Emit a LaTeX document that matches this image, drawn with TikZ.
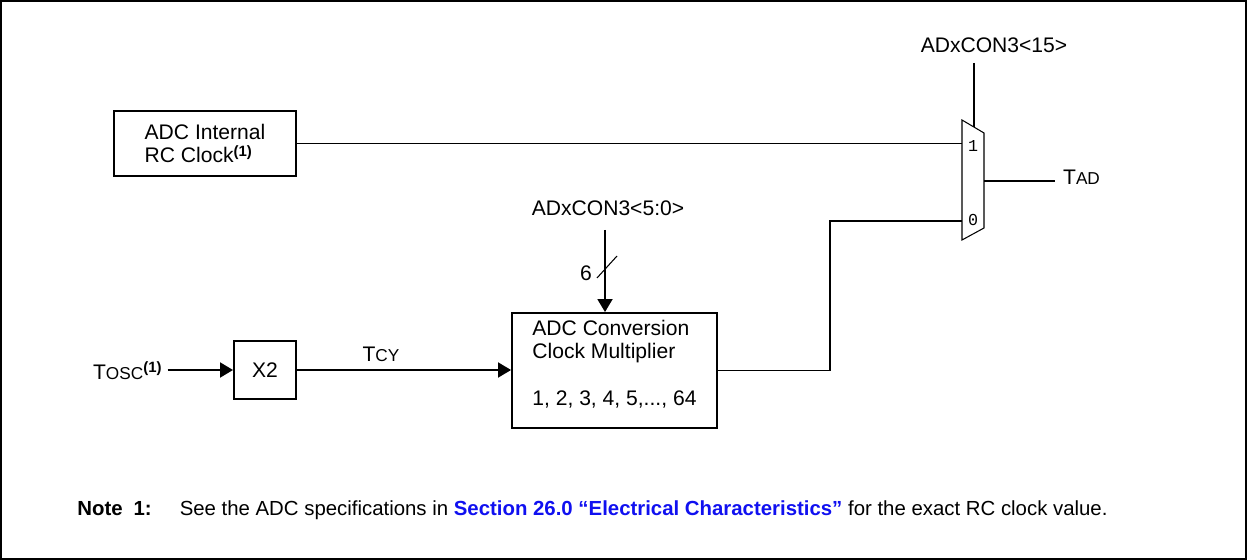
\documentclass[tikz,border=0pt]{standalone}
\usepackage{fontspec}
\setmainfont{Liberation Sans}
\newfontfamily\muxfont{Liberation Mono}
\usetikzlibrary{positioning,arrows.meta,calc}
\definecolor{linkblue}{HTML}{1010F0}
\newcommand{\fnref}{\raisebox{3.5pt}{\fontsize{8.5}{9}\selectfont\bfseries(1)}}
\newcommand{\smc}[1]{{\fontsize{9.8}{10}\selectfont #1}}
\tikzset{
  blockbox/.style={draw, line width=1.1pt, inner sep=0pt},
  wire/.style={line width=1.1pt},
  sig/.style={wire, -{Triangle[length=0.26cm, width=0.3cm]}},
  lbl/.style={inner sep=1pt},
  muxlbl/.style={inner sep=0pt, font=\muxfont\fontsize{9.5}{10}\selectfont},
}

\begin{document}
\begin{tikzpicture}[x=0.02cm, y=-0.02cm, font=\fontsize{12}{13}\selectfont]
\useasboundingbox (0,0) rectangle (1247,560);
\draw[line width=0.7pt] (1,1) rectangle (1246,559);
\node[blockbox, minimum width=3.64cm, minimum height=1.3cm, align=left] (rcclk) at (205,143.5) {ADC Internal\\RC Clock\fnref};
\node[blockbox, minimum width=1.24cm, minimum height=1.16cm] (xtwo) at (265,370) {X2};
\node[blockbox, minimum width=4.1cm, minimum height=2.3cm] (mult) at (614.5,370.5) {};
\node[inner sep=0pt, anchor=north west, align=left] (multtxt) at ([shift={(0.42cm,-0.16cm)}]mult.north west) {ADC Conversion\\Clock Multiplier\\[14pt]1, 2, 3, 4, 5,..., 64};
\draw[line width=0.6pt] (962,120) -- (984,133) -- (984,228) -- (962,240) -- cycle;
\coordinate (muxin1) at (962,144);
\coordinate (muxin0) at (962,221);
\coordinate (muxout) at (984,181);
\coordinate (muxsel) at (974,127);
\node[muxlbl] (onelbl) at (973,146) {1};
\node[muxlbl] (zerolbl) at (973,220) {0};
\node[lbl, anchor=base] (selhi) at (994,53) {ADxCON3<15>};
\coordinate (selhitop) at (974,63);
\draw[wire] (selhitop) -- (muxsel);
\draw[wire] (rcclk.east) -- (rcclk.east -| muxin1);
\node[lbl, anchor=base west] (tad) at (1061,185) {T\smc{AD}};
\draw[wire] (muxout) -- ($(muxout -| tad.west)+(-6,0)$);
\node[lbl, anchor=base] (sello) at (608,216) {ADxCON3<5:0>};
\coordinate (sellotop) at (605,230);
\draw[sig] (sellotop) -- (sellotop |- mult.north);
\draw[line width=0.6pt] (597,278) -- (617,256);
\node[lbl, anchor=base] (buswidth) at (586,281) {6};
\node[lbl, anchor=base west] (tosc) at (91,379) {T\smc{OSC}\fnref};
\draw[sig] ($(tosc.east |- xtwo.west)+(4,0)$) -- (xtwo.west);
\draw[sig] (xtwo.east) -- (xtwo.east -| mult.west);
\node[lbl, anchor=base] (tcy) at (381,361) {T\smc{CY}};
\coordinate (jog) at (830,300);
\draw[wire] (mult.east) -| (jog) |- (muxin0);
\node[anchor=base west, inner sep=0pt, font=\fontsize{11.6}{13}\selectfont] (note) at (77,515) {\textbf{Note\hspace{0.22cm}1:}\hspace{0.56cm}See the ADC specifications in \textcolor{linkblue}{\textbf{Section 26.0 “Electrical Characteristics”}} for the exact RC clock value.};
\end{tikzpicture}
\end{document}
